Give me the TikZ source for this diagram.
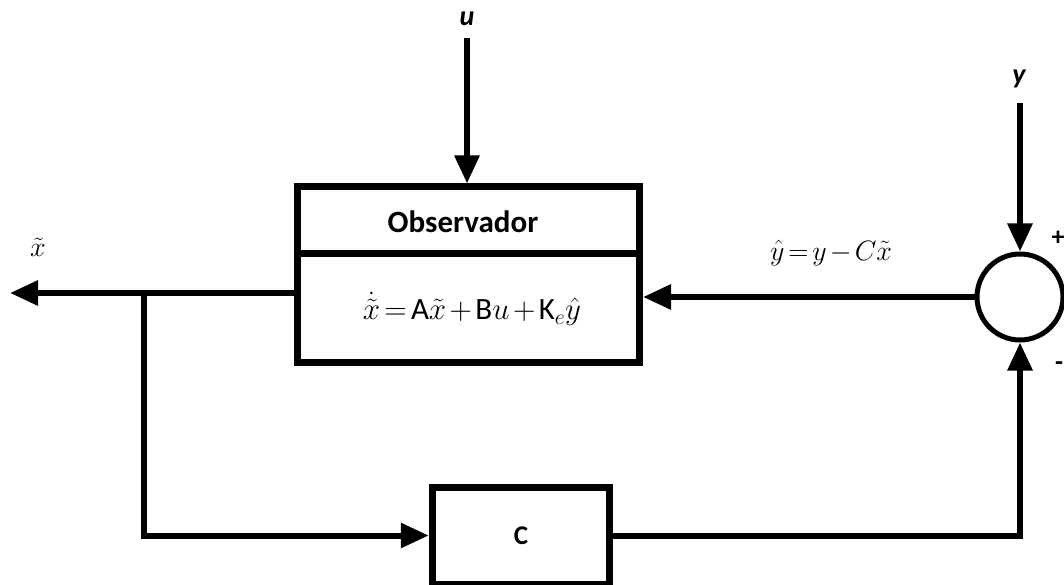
\RequirePackage{fix-cm}
\documentclass[tikz,border=0pt]{standalone}
\usepackage{fontspec}
\setsansfont{Carlito}
\usetikzlibrary{arrows.meta}
\begin{document}
\begin{tikzpicture}[x=1pt,y=-1pt,
  blk/.style={draw, line width=7pt, rectangle, inner sep=0pt},
  wire/.style={line width=6pt},
  arr/.style={wire, -{Triangle[length=28pt,width=24pt]}},
  lbl/.style={font=\fontsize{28}{32}\selectfont\sffamily\bfseries\itshape, inner sep=0pt},
  sgn/.style={font=\fontsize{26}{30}\selectfont\sffamily\bfseries, inner sep=0pt},
  mth/.style={inner sep=0pt}
]
\useasboundingbox (0,0) rectangle (1064,585);
% blocks
\node[blk, minimum width=342pt, minimum height=175pt] (obs) at (468.5,274.5) {};
\draw[line width=7pt] (obs.west |- 0,253.5) -- (obs.east |- 0,253.5);
\node[inner sep=0pt, font=\fontsize{31}{35}\selectfont\sffamily\bfseries] (title) at (463,222) {Observador};
\node[mth, font=\fontsize{31}{35}\selectfont] (eq) at (472,309) {$\medmuskip=2mu\thickmuskip=2.5mu\dot{\tilde{x}} = \mathsf{A}\tilde{x} + \mathsf{B}u + \mathsf{K}_e\hat{y}$};
\node[blk, minimum width=177.5pt, minimum height=97pt, font=\fontsize{27}{31}\selectfont\sffamily\bfseries] (C) at (521,535.5) {C};
\node[draw, circle, line width=5pt, minimum size=86pt, inner sep=0pt] (sum) at (1020,297) {};
% labels
\node[lbl] (ul) at (467,19) {u};
\node[lbl] (yl) at (1019,79) {y};
\node[mth, font=\fontsize{28}{32}\selectfont] (xl) at (38,247) {$\tilde{x}$};
\node[mth, font=\fontsize{28}{32}\selectfont] (yhl) at (831,253) {$\medmuskip=2mu\thickmuskip=2.5mu\hat{y} = y - C\tilde{x}$};
\node[sgn] (plus) at (1058,238) {+};
\node[sgn] (minus) at (1059,366) {-};
% coordinates
\coordinate (uin) at (467,38);
\coordinate (yin) at (1020,103);
\coordinate (xout) at (10,293);
\coordinate (br) at (144,293);
% connectors
\draw[arr] (uin) -- (uin |- obs.north);
\draw[arr] (yin) -- (sum.north);
\draw[arr] (obs.west |- xout) -- (xout);
\draw[arr] (sum.west) -- (sum.west -| obs.east);
\draw[arr] (br) |- (C.west);
\draw[arr] (C.east) -| (sum.south);
\end{tikzpicture}
\end{document}
